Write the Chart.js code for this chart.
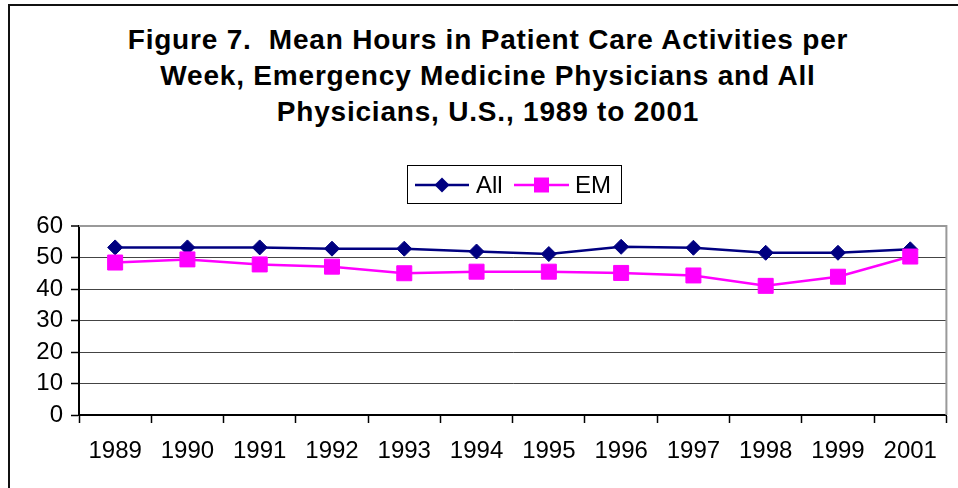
<!DOCTYPE html>
<html lang="en">
<head>
    <meta charset="UTF-8">
    <title>Figure 7. Mean Hours in Patient Care Activities per Week</title>
    <script src="https://cdn.jsdelivr.net/npm/chart.js@4/dist/chart.umd.min.js"></script>
    <style>
        body {
            margin: 0;
            background: white;
            font-family: "Liberation Sans", Arial, sans-serif;
        }
        .wrap {
            position: relative;
            width: 958px;
            height: 488px;
            overflow: hidden;
        }
        .frame {
            position: absolute;
            left: 8px;
            top: 4px;
            width: 1000px;
            height: 1000px;
            border-top: 2px solid #111;
            border-left: 2px solid #111;
        }
        .title {
            position: absolute;
            top: 22px;
            left: 0;
            width: 976px;
            text-align: center;
            font-weight: bold;
            font-size: 28px;
            letter-spacing: 0.8px;
            line-height: 36px;
            color: #000;
        }
        canvas {
            position: absolute;
            left: 0;
            top: 0;
        }
    </style>
</head>
<body>
    <div class="wrap">
        <div class="frame"></div>
        <div class="title">Figure 7.&nbsp; Mean Hours in Patient Care Activities per<br>Week, Emergency Medicine Physicians and All<br>Physicians, U.S., 1989 to 2001</div>
        <canvas id="chart" width="958" height="488"></canvas>
    </div>

    <script>
        const years = ['1989', '1990', '1991', '1992', '1993', '1994', '1995', '1996', '1997', '1998', '1999', '2001'];
        const allHours = [53.2, 53.2, 53.2, 52.8, 52.8, 51.9, 51.1, 53.4, 53.1, 51.5, 51.5, 52.6];
        const emHours = [48.4, 49.4, 47.8, 47.1, 45.0, 45.5, 45.5, 45.1, 44.3, 41.0, 43.9, 50.3];
        const yTicks = [0, 10, 20, 30, 40, 50, 60];

        const FONT = '"Liberation Sans", Arial, sans-serif';

        // gray border on the top/right of the plot area, like Excel
        const plotFrame = {
            id: 'plotFrame',
            beforeDatasetsDraw(chart) {
                const { ctx, chartArea: a } = chart;
                ctx.save();
                ctx.strokeStyle = '#999';
                ctx.lineWidth = 2;
                ctx.beginPath();
                ctx.moveTo(a.left, a.top);
                ctx.lineTo(a.right, a.top);
                ctx.lineTo(a.right, a.bottom);
                ctx.stroke();
                ctx.restore();
            }
        };

        // legend box with line + marker samples
        const boxLegend = {
            id: 'boxLegend',
            afterDraw(chart) {
                const ctx = chart.ctx;
                const y = 185;
                const items = [
                    { ds: chart.data.datasets[0], x0: 415, x1: 469, tx: 476 },
                    { ds: chart.data.datasets[1], x0: 514, x1: 569, tx: 575 }
                ];
                ctx.save();
                ctx.strokeStyle = '#000';
                ctx.lineWidth = 1;
                ctx.strokeRect(407.5, 165.5, 214, 38);
                items.forEach(it => {
                    const c = it.ds.borderColor;
                    const xm = (it.x0 + it.x1) / 2;
                    ctx.strokeStyle = c;
                    ctx.lineWidth = it.ds.borderWidth;
                    ctx.beginPath();
                    ctx.moveTo(it.x0, y);
                    ctx.lineTo(it.x1, y);
                    ctx.stroke();
                    ctx.fillStyle = c;
                    ctx.beginPath();
                    if (it.ds.pointStyle === 'rectRot') {
                        const r = it.ds.pointRadius;
                        ctx.moveTo(xm, y - r);
                        ctx.lineTo(xm + r, y);
                        ctx.lineTo(xm, y + r);
                        ctx.lineTo(xm - r, y);
                        ctx.closePath();
                    } else {
                        const s = Math.SQRT1_2 * it.ds.pointRadius;
                        ctx.rect(xm - s, y - s, 2 * s, 2 * s);
                    }
                    ctx.fill();
                    ctx.fillStyle = '#000';
                    ctx.font = '24px ' + FONT;
                    ctx.textBaseline = 'middle';
                    ctx.textAlign = 'left';
                    ctx.fillText(it.ds.label, it.tx, y + 1);
                });
                ctx.restore();
            }
        };

        new Chart(document.getElementById('chart'), {
            type: 'line',
            data: {
                labels: years,
                datasets: [{
                    label: 'All',
                    data: allHours,
                    borderColor: '#000080',
                    backgroundColor: '#000080',
                    borderWidth: 2.5,
                    pointStyle: 'rectRot',
                    pointRadius: 7.5,
                    pointBorderWidth: 1,
                    pointBackgroundColor: '#000080',
                    order: 1,
                    tension: 0
                }, {
                    label: 'EM',
                    data: emHours,
                    borderColor: '#FF00FF',
                    backgroundColor: '#FF00FF',
                    borderWidth: 2.5,
                    pointStyle: 'rect',
                    pointRadius: 10.6,
                    pointBorderWidth: 1,
                    pointBackgroundColor: '#FF00FF',
                    order: 0,
                    tension: 0
                }]
            },
            options: {
                responsive: false,
                animation: false,
                devicePixelRatio: 1,
                layout: { padding: { top: 226, left: 9, right: 10, bottom: 0 } },
                plugins: {
                    legend: { display: false },
                    title: { display: false },
                    tooltip: { enabled: false }
                },
                scales: {
                    x: {
                        type: 'category',
                        offset: true,
                        grid: {
                            offset: true,
                            drawOnChartArea: false,
                            tickLength: 8,
                            tickColor: '#000',
                            tickWidth: 1.5
                        },
                        border: { color: '#000', width: 2 },
                        ticks: {
                            color: '#000',
                            font: { family: FONT, size: 24 },
                            padding: 14,
                            maxRotation: 0,
                            autoSkip: false
                        },
                        afterFit: s => { s.height = 73; }
                    },
                    y: {
                        min: 0,
                        max: 60,
                        afterBuildTicks: s => { s.ticks = yTicks.map(v => ({ value: v })); },
                        grid: {
                            color: c => c.tick && c.tick.value === 60 ? '#999' : '#444',
                            lineWidth: c => c.tick && c.tick.value === 60 ? 2 : 1,
                            tickLength: 8,
                            tickColor: '#000',
                            tickWidth: 1.5
                        },
                        border: { color: '#000', width: 2 },
                        ticks: {
                            color: '#000',
                            font: { family: FONT, size: 24 },
                            padding: 8,
                            autoSkip: false
                        },
                        afterFit: s => { s.width = 70; }
                    }
                }
            },
            plugins: [plotFrame, boxLegend]
        });
    </script>
</body>
</html>
